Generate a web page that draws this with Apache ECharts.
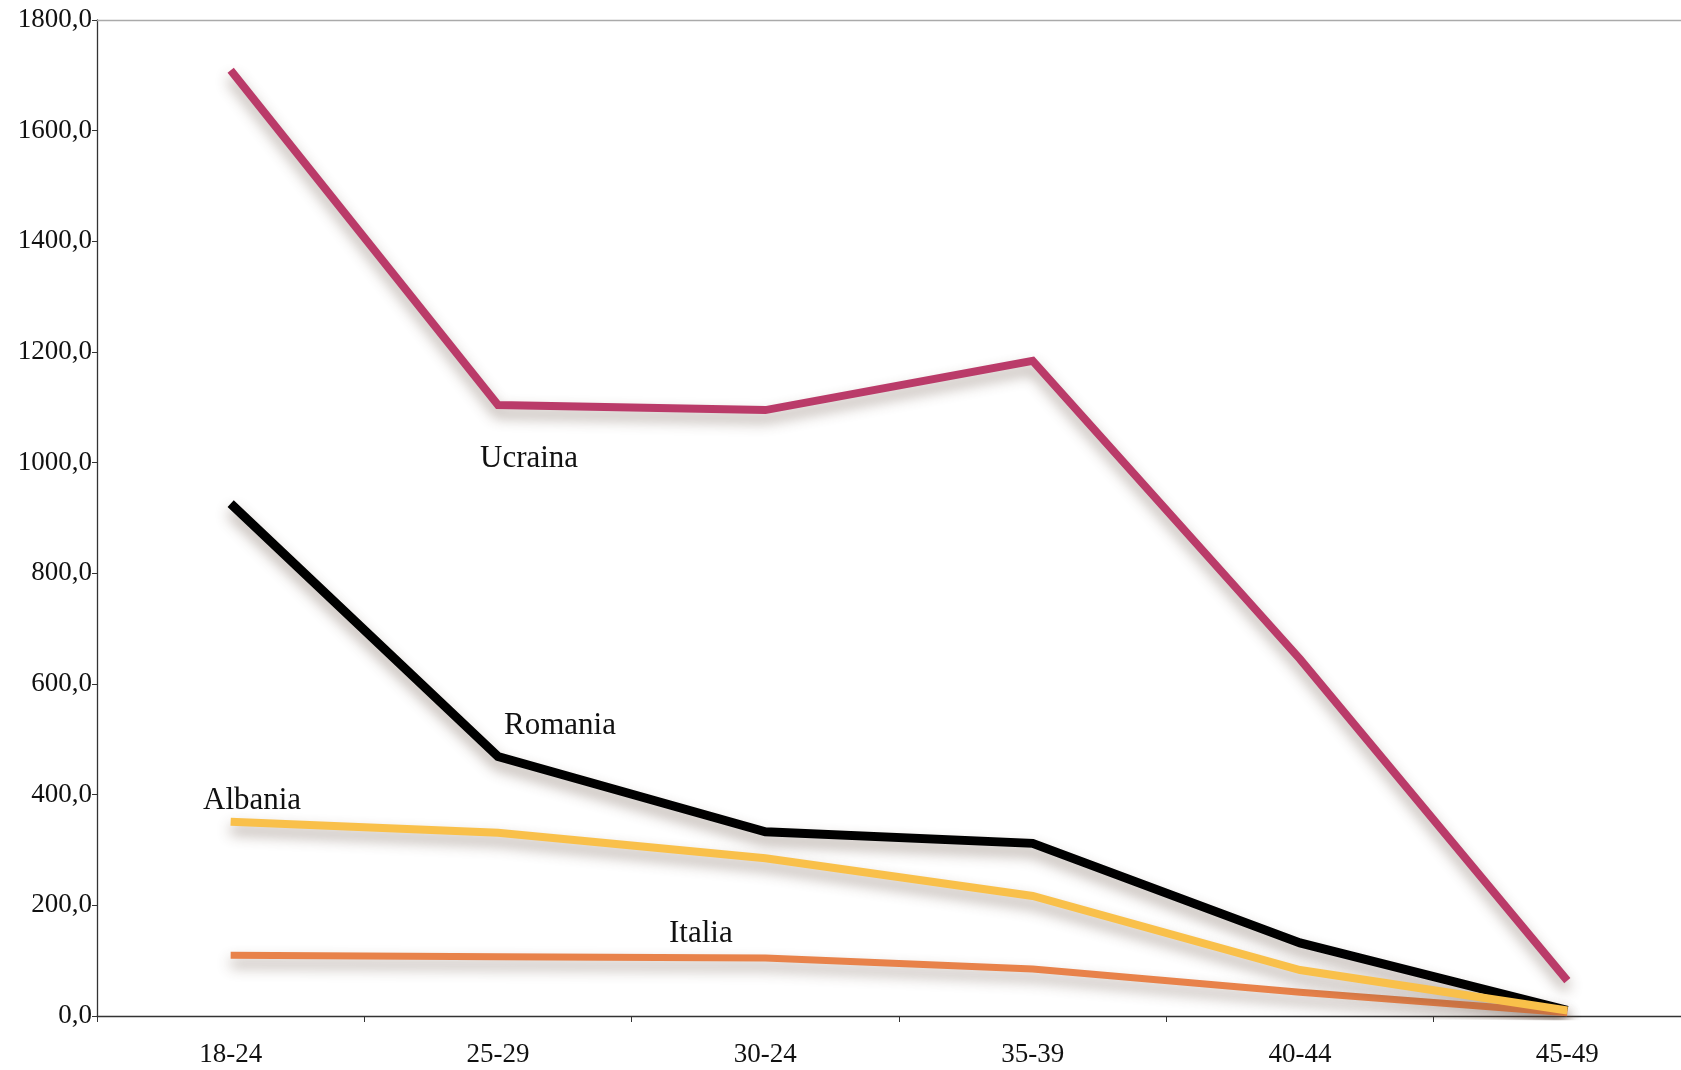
<!DOCTYPE html>
<html>
<head>
<meta charset="utf-8">
<script src="https://cdn.jsdelivr.net/npm/echarts@6/dist/echarts.min.js"></script>
<style>
html,body{margin:0;padding:0;background:#fff;}
#c{width:1681px;height:1070px;}
</style>
</head>
<body>
<div id="c"></div>
<script>
var categories = ['18-24', '25-29', '30-24', '35-39', '40-44', '45-49'];
var ucraina = [1709, 1104, 1095, 1184, 645, 64];
var romania = [926, 469, 333, 312, 132, 10];
var italia = [110, 107, 105, 85, 43, 6];
var albania = [351, 331, 285, 217, 83, 10];
var yTicks = { min: 0, max: 1800, interval: 200 };
var seriesNames = ['Ucraina', 'Romania', 'Italia', 'Albania'];

var serif = 'Liberation Serif, Times New Roman, serif';

function fmt(v) { return v.toFixed(1).replace('.', ','); }

function lineSeries(name, data, color, width) {
  return {
    name: name,
    type: 'line',
    data: data,
    symbol: 'none',
    silent: true,
    lineStyle: {
      color: color,
      width: width,
      cap: 'butt',
      join: 'miter',
      shadowColor: 'rgba(80,55,40,0.45)',
      shadowBlur: 14,
      shadowOffsetY: 8
    }
  };
}

var chart = echarts.init(document.getElementById('c'), null, { renderer: 'canvas' });
chart.setOption({
  animation: false,
  backgroundColor: '#ffffff',
  grid: {
    left: 97, top: 20, bottom: 54, width: 1604,
    outerBoundsMode: 'none', containLabel: false
  },
  xAxis: [{
    type: 'category',
    data: categories,
    boundaryGap: true,
    axisLine: { lineStyle: { color: '#333', width: 1.3 } },
    axisTick: { show: true, length: 6, lineStyle: { color: '#333' } },
    axisLabel: { color: '#111', fontFamily: serif, fontSize: 27, margin: 25 },
    splitLine: { show: false }
  }, {
    type: 'category',
    position: 'top',
    data: categories,
    axisLine: { lineStyle: { color: '#aaa', width: 1.3 } },
    axisTick: { show: false },
    axisLabel: { show: false }
  }],
  yAxis: {
    type: 'value',
    min: yTicks.min,
    max: yTicks.max,
    interval: yTicks.interval,
    axisLine: { show: true, lineStyle: { color: '#333', width: 1.3 } },
    axisTick: { show: true, length: 5, lineStyle: { color: '#333' } },
    axisLabel: { color: '#111', fontFamily: serif, fontSize: 27, margin: 5, formatter: fmt },
    splitLine: { show: false }
  },
  series: [
    lineSeries(seriesNames[0], ucraina, '#ba3b69', 8),
    lineSeries(seriesNames[1], romania, '#000000', 9),
    lineSeries(seriesNames[2], italia, '#e8824a', 7),
    lineSeries(seriesNames[3], albania, '#f9c04a', 8)
  ],
  graphic: [
    { type: 'text', left: 480, top: 443, style: { text: 'Ucraina', font: '31px ' + serif, fill: '#111' } },
    { type: 'text', left: 504, top: 710, style: { text: 'Romania', font: '31px ' + serif, fill: '#111' } },
    { type: 'text', left: 203, top: 785, style: { text: 'Albania', font: '31px ' + serif, fill: '#111' } },
    { type: 'text', left: 669, top: 918, style: { text: 'Italia', font: '31px ' + serif, fill: '#111' } }
  ]
});
</script>
</body>
</html>
